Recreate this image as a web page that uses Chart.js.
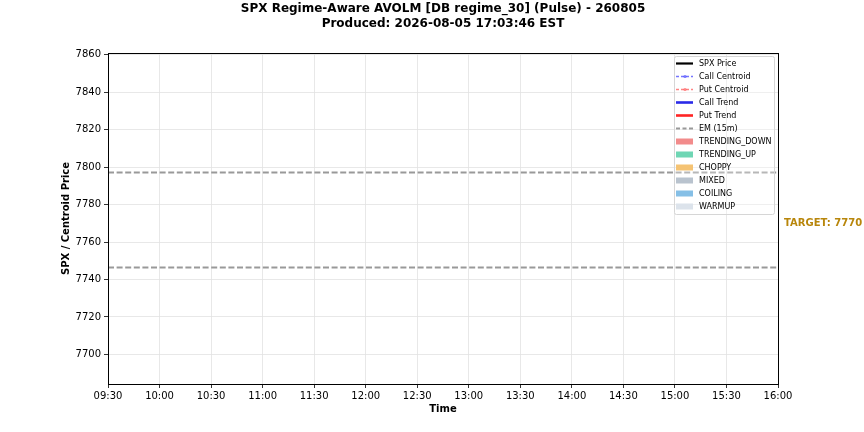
<!DOCTYPE html>
<html><head><meta charset="utf-8">
<script src="https://cdn.jsdelivr.net/npm/chart.js@4/dist/chart.umd.min.js"></script>
<style>html,body{margin:0;padding:0;background:#fff}#wrap{width:864px;height:432px}</style>
</head><body><div id="wrap"><canvas id="c" width="864" height="432"></canvas></div>
<script>
// ---- data ----
const titleLine1 = "SPX Regime-Aware AVOLM [DB regime_30] (Pulse) - 260805";
const titleLine2 = "Produced: 2026-08-05 17:03:46 EST";
const xTickLabels = ["09:30","10:00","10:30","11:00","11:30","12:00","12:30","13:00","13:30","14:00","14:30","15:00","15:30","16:00"];
const yTicks = [7700,7720,7740,7760,7780,7800,7820,7840,7860];
const spxTimes = [];
const spxPrice = [];
const emTimes = ["09:30","16:00"];
const emUpper = [7797.1, 7797.1];
const emLower = [7746.4, 7746.4];
const targetValue = 7770;
const legendLabels = ["SPX Price","Call Centroid","Put Centroid","Call Trend","Put Trend","EM (15m)","TRENDING_DOWN","TRENDING_UP","CHOPPY","MIXED","COILING","WARMUP"];

function toMin(t){const [h,m]=t.split(":").map(Number);return h*60+m;}
function fmt(v){const h=Math.floor(v/60),m=Math.round(v%60);return String(h).padStart(2,"0")+":"+String(m).padStart(2,"0");}
const xMin = toMin(xTickLabels[0]), xMax = toMin(xTickLabels[xTickLabels.length-1]);

const FONT = "'DejaVu Sans', sans-serif";
const legendStyle = [
 {type:'line',color:'#000000',width:2.2,dash:[]},
 {type:'line',color:'rgba(60,60,255,0.7)',width:1.4,dash:[3,2],marker:true},
 {type:'line',color:'rgba(255,80,80,0.7)',width:1.4,dash:[3,2],marker:true},
 {type:'line',color:'#2a2ae8',width:2.6,dash:[]},
 {type:'line',color:'#ff2424',width:2.6,dash:[]},
 {type:'line',color:'#999999',width:1.8,dash:[4,2.5]},
 {type:'patch',color:'#f28b8b'},
 {type:'patch',color:'#6fd6b4'},
 {type:'patch',color:'#f5c373'},
 {type:'patch',color:'#b9c3ce'},
 {type:'patch',color:'#85bfe6'},
 {type:'patch',color:'#dce3eb'}
];

const deco = {
 id:'deco',
 afterDatasetsDraw(chart){
  const ctx=chart.ctx, a=chart.chartArea, ys=chart.scales.y;
  ctx.save();
  ctx.strokeStyle='#000'; ctx.lineWidth=1;
  ctx.strokeRect(Math.round(a.left)+0.5, Math.round(a.top)+0.5, Math.round(a.right-a.left), Math.round(a.bottom-a.top));
  ctx.fillStyle='#000'; ctx.textAlign='center'; ctx.textBaseline='middle';
  ctx.font="bold 12px "+FONT;
  const cx=(a.left+a.right)/2;
  ctx.fillText(titleLine1,cx,9);
  ctx.fillText(titleLine2,cx,24);
  ctx.font="bold 10px "+FONT;
  ctx.fillText("Time",cx,409.5);
  ctx.save(); ctx.translate(66,(a.top+a.bottom)/2); ctx.rotate(-Math.PI/2);
  ctx.fillText("SPX / Centroid Price",0,0); ctx.restore();
  ctx.textAlign='left'; ctx.fillStyle='#b8860b'; ctx.font="bold 10px "+FONT;
  ctx.fillText("TARGET: "+targetValue, a.right+6, ys.getPixelForValue(targetValue));
  const lx=674, ly=56, lw=100, lh=158;
  ctx.fillStyle='rgba(255,255,255,0.3)';
  ctx.strokeStyle='#d6d6d6'; ctx.lineWidth=1;
  ctx.beginPath(); ctx.roundRect(lx+0.5,ly+0.5,lw,lh,2); ctx.fill(); ctx.stroke();
  ctx.font="8px "+FONT; ctx.textBaseline='middle';
  legendLabels.forEach((lab,i)=>{
   const y=63.5+i*13, s=legendStyle[i];
   if(s.type==='line'){
    ctx.strokeStyle=s.color; ctx.lineWidth=s.width; ctx.setLineDash(s.dash);
    ctx.beginPath(); ctx.moveTo(676,y); ctx.lineTo(693,y); ctx.stroke(); ctx.setLineDash([]);
    if(s.marker){ctx.fillStyle=s.color; ctx.beginPath(); ctx.arc(685,y,1.5,0,Math.PI*2); ctx.fill();}
   } else {
    ctx.fillStyle=s.color; ctx.fillRect(676,y-3,17,6);
   }
   ctx.fillStyle='#000'; ctx.fillText(lab,699,y);
  });
  ctx.restore();
 }
};

new Chart(document.getElementById('c'),{
 type:'scatter',
 data:{datasets:[
  {label:'SPX Price',data:spxTimes.map((t,i)=>({x:toMin(t),y:spxPrice[i]})),showLine:true,borderColor:'#000',borderWidth:2,pointRadius:0},
  {label:'EM (15m)',data:emTimes.map((t,i)=>({x:toMin(t),y:emUpper[i]})),showLine:true,borderColor:'#999999',borderWidth:1.9,borderDash:[6,2.6],pointRadius:0},
  {label:'EM lower',data:emTimes.map((t,i)=>({x:toMin(t),y:emLower[i]})),showLine:true,borderColor:'#999999',borderWidth:1.9,borderDash:[6,2.6],pointRadius:0}
 ]},
 options:{
  responsive:false,animation:false,
  layout:{padding:{left:0,right:86,top:53,bottom:0}},
  plugins:{legend:{display:false},tooltip:{enabled:false}},
  scales:{
   x:{type:'linear',min:xMin,max:xMax,
      afterBuildTicks(s){s.ticks=xTickLabels.map(t=>({value:toMin(t)}));},
      afterFit(s){s.height=48;},
      grid:{color:'#e2e2e2',lineWidth:0.8,tickLength:4,tickColor:'#000',drawTicks:true},
      border:{display:false},
      ticks:{callback:v=>fmt(v),color:'#000',font:{family:FONT,size:10},padding:2,maxRotation:0,autoSkip:false}},
   y:{type:'linear',min:7684.2,max:7860.9,
      afterBuildTicks(s){s.ticks=yTicks.map(v=>({value:v}));},
      afterFit(s){s.width=108;},
      grid:{color:'#e2e2e2',lineWidth:0.8,tickLength:4,tickColor:'#000'},
      border:{display:false},
      ticks:{callback:v=>String(v),color:'#000',font:{family:FONT,size:10},padding:3}}
  }
 },
 plugins:[deco]
});
</script></body></html>
